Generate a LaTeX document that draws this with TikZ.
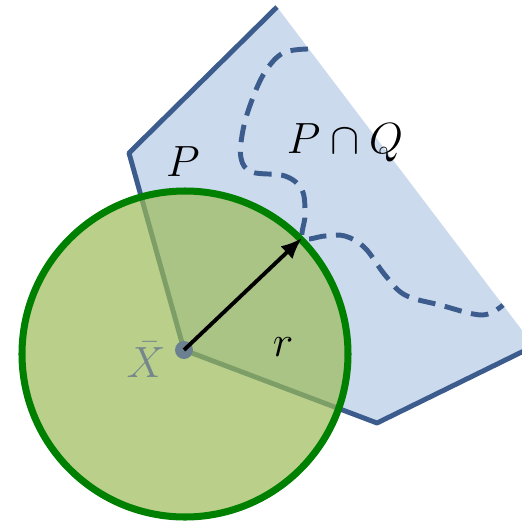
\documentclass[tikz,border=0pt]{standalone}
\usepackage{amsmath, amssymb}
\usepackage{tikz}
\usetikzlibrary{arrows.meta, positioning, calc}
\usepackage{xcolor}
\definecolor{polyfill}{RGB}{203,218,236}
\definecolor{polyline}{RGB}{59,92,140}
\definecolor{ballfill}{RGB}{155,187,89}
\definecolor{ballline}{RGB}{0,128,0}
\definecolor{centergray}{RGB}{107,128,145}
\definecolor{labelgray}{RGB}{117,135,140}

\begin{document}
\begin{tikzpicture}[x=0.02cm, y=-0.02cm,
  lbl/.style={font=\fontsize{26}{30}\selectfont, inner sep=0pt}]
  \useasboundingbox (0,0) rectangle (522,522);
  % polygon P
  \begin{scope}
    \clip (0,0) rectangle (522,522);
    \fill[polyfill] (277,7) -- (129,153) -- (184,350) -- (377,423) -- (534,346) -- cycle;
    \draw[polyline, line width=2.8pt, line join=round] (277,7) -- (129,153) -- (184,350) -- (377,423) -- (534,346);
  \end{scope}
  % boundary of Q inside P
  \draw[polyline, line width=2.8pt, dash pattern=on 10pt off 5.5pt]
    plot[smooth, tension=0.6] coordinates {(308,49) (283,53) (265,72) (252,100) (243,130) (241,158) (252,172) (285,176) (302,190) (305,215) (303,238) (325,236) (345,236) (365,248) (385,275) (405,295) (440,305) (482,315) (503,305)};
  \node[lbl] (p) at (183,162) {$P$};
  \node[lbl] (pq) at (345,143) {$P\cap Q$};
  % ball
  \fill[ballfill, opacity=0.7] (185,354) circle (163);
  \draw[ballline, line width=4pt] (185,354) circle (163);
  \node[circle, fill=centergray, minimum size=0.36cm, inner sep=0pt] (c) at (184,350) {};
  \node[lbl, text=labelgray] (xbar) at (146,360) {$\bar{X}$};
  \coordinate (rim) at (302,238);
  \draw[-{Latex[length=12pt,width=10pt]}, line width=2.2pt] (c.center) -- (rim);
  \node[lbl, font=\fontsize{29}{32}\selectfont] (r) at (283,347) {$r$};
\end{tikzpicture}
\end{document}
